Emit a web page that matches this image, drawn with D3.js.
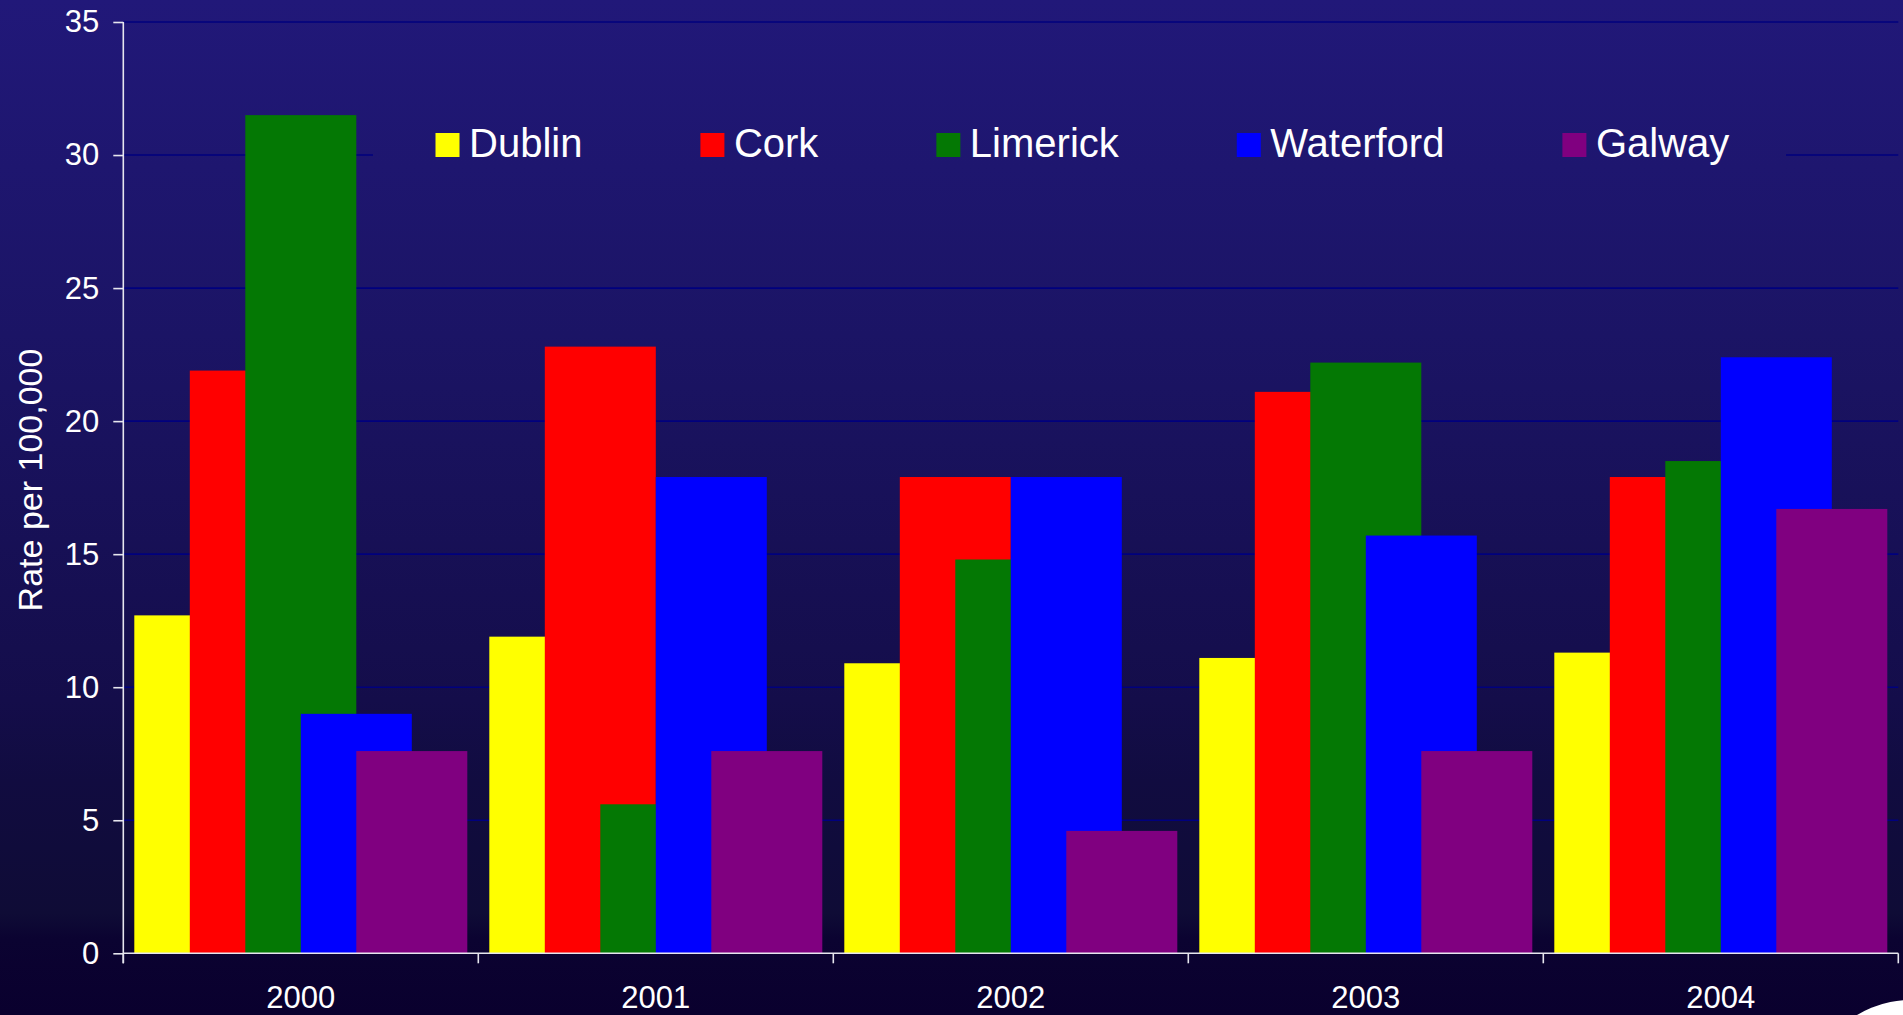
<!DOCTYPE html>
<html>
<head>
<meta charset="utf-8">
<script src="https://cdn.jsdelivr.net/npm/d3@7"></script>
<style>
  html, body { margin: 0; padding: 0; background: #0a0030; overflow: hidden; }
  svg { display: block; font-family: "Liberation Sans", Arial, sans-serif; }
</style>
</head>
<body>
<svg id="chart" width="1903" height="1015"></svg>
<script>
// ---- data ----
const years = ["2000", "2001", "2002", "2003", "2004"];
const series = ["Dublin", "Cork", "Limerick", "Waterford", "Galway"];
const dublin    = [12.7, 11.9, 10.9, 11.1, 11.3];
const cork      = [21.9, 22.8, 17.9, 21.1, 17.9];
const limerick  = [31.5, 5.6, 14.8, 22.2, 18.5];
const waterford = [9.0, 17.9, 17.9, 15.7, 22.4];
const galway    = [7.6, 7.6, 4.6, 7.6, 16.7];
const yTicks = [0, 5, 10, 15, 20, 25, 30, 35];
const yTitle = "Rate per 100,000";
const colors = ["#ffff00", "#ff0000", "#047804", "#0000ff", "#800080"];

const values = [dublin, cork, limerick, waterford, galway];

// ---- layout ----
const W = 1903, H = 1015;
const svg = d3.select("#chart");

const defs = svg.append("defs");
const grad = defs.append("linearGradient")
  .attr("id", "bg").attr("gradientUnits", "userSpaceOnUse")
  .attr("x1", 0).attr("y1", 0).attr("x2", 0).attr("y2", H);
[[0, "#211879"], [0.33, "#1b1465"], [0.69, "#140d4a"], [0.77, "#110c40"],
 [0.9, "#0f0c36"], [0.925, "#0b0331"], [1, "#0a002e"]].forEach(([o, c]) =>
  grad.append("stop").attr("offset", o).attr("stop-color", c));

svg.append("rect").attr("width", W).attr("height", H).attr("fill", "url(#bg)");

const x0 = d3.scaleBand().domain(years).range([123.3, 1898.3]).padding(0);
const bw = x0.bandwidth();
const step = bw * 55.5 / 355;
const gap = bw * 11 / 355;
const xi = d3.scaleBand().domain(series).range([gap, bw - gap - step]).padding(0);
const y = d3.scaleLinear().domain([0, 35]).range([953.3, 22]);

// gridlines
svg.append("g").selectAll("line")
  .data(yTicks.filter(d => d > 0))
  .join("line")
  .attr("x1", x0.range()[0]).attr("x2", x0.range()[1])
  .attr("y1", d => y(d)).attr("y2", d => y(d))
  .attr("stroke", "#00007e").attr("stroke-width", 1.6);

// legend background (hides gridline behind legend)
const legendG = svg.append("g");
legendG.append("rect")
  .attr("x", 373).attr("y", 108).attr("width", 1786 - 373).attr("height", 78)
  .attr("fill", "url(#bg)");

// bars
series.forEach((s, si) => {
  svg.append("g").selectAll("rect")
    .data(years.map((yr, i) => ({ yr, v: values[si][i] })))
    .join("rect")
    .attr("x", d => x0(d.yr) + xi(s))
    .attr("width", step * 2)
    .attr("y", d => y(d.v))
    .attr("height", d => y(0) - y(d.v))
    .attr("fill", colors[si]);
});

// y axis
const axisColor = "#e6e6ee";
const yAxis = svg.append("g")
  .attr("transform", `translate(${x0.range()[0]},0)`)
  .call(d3.axisLeft(y).tickValues(yTicks).tickSize(10).tickPadding(14).tickSizeOuter(0));
yAxis.select(".domain").attr("stroke", axisColor).attr("stroke-width", 1.6)
  .attr("d", `M0,${y(35)}V${y(0) + 10}`);
yAxis.selectAll(".tick line").attr("stroke", axisColor).attr("stroke-width", 1.6);
yAxis.selectAll(".tick text").attr("fill", "#ffffff")
  .attr("font-size", 31).attr("font-family", '"Liberation Sans", Arial, sans-serif');

// x axis
const xAxis = svg.append("g").attr("transform", `translate(0,${y(0)})`);
xAxis.append("line")
  .attr("x1", x0.range()[0]).attr("x2", x0.range()[1])
  .attr("y1", 0).attr("y2", 0)
  .attr("stroke", axisColor).attr("stroke-width", 1.6);
xAxis.selectAll("line.tk")
  .data(years.map(d => x0(d)).concat([x0.range()[1]]))
  .join("line").attr("class", "tk")
  .attr("x1", d => d).attr("x2", d => d)
  .attr("y1", 0).attr("y2", 10)
  .attr("stroke", axisColor).attr("stroke-width", 1.6);
xAxis.selectAll("text")
  .data(years)
  .join("text")
  .attr("x", d => x0(d) + bw / 2)
  .attr("y", 55)
  .attr("text-anchor", "middle")
  .attr("fill", "#ffffff")
  .attr("font-size", 31)
  .text(d => d);

// y title
svg.append("text")
  .attr("transform", `translate(41.5,480) rotate(-90)`)
  .attr("text-anchor", "middle")
  .attr("fill", "#ffffff")
  .attr("font-size", 34)
  .text(yTitle);

// legend
let lx = 435.5;
series.forEach((s, si) => {
  const g = legendG.append("g");
  g.append("rect").attr("x", lx).attr("y", 133).attr("width", 24).attr("height", 24)
    .attr("fill", colors[si]);
  const t = g.append("text").attr("x", lx + 33.5).attr("y", 157)
    .attr("fill", "#ffffff").attr("font-size", 40).text(s);
  lx += 33.5 + t.node().getComputedTextLength() + 118;
});

// decorative white arc at bottom-right corner
svg.append("circle").attr("cx", 1910).attr("cy", 1101).attr("r", 101).attr("fill", "#ffffff");
</script>
</body>
</html>
